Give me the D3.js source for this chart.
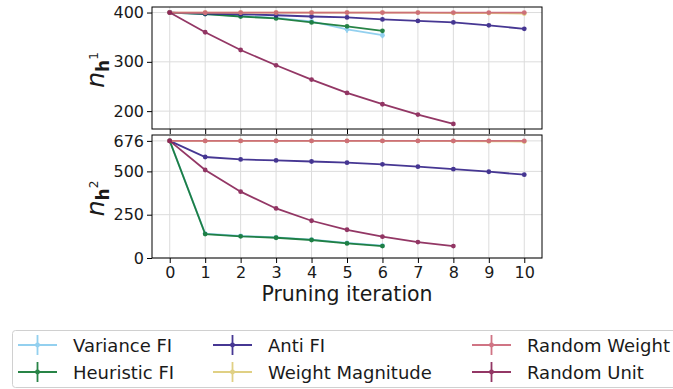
<!DOCTYPE html>
<html>
<head>
<meta charset="utf-8">
<script src="https://cdn.jsdelivr.net/npm/d3@7"></script>
<style>
  body { margin: 0; background: #fff; }
  svg { font-family: 'DejaVu Sans', sans-serif; }
</style>
</head>
<body>
<svg id="chart" width="673" height="389"></svg>
<script>
const iterations = [0, 1, 2, 3, 4, 5, 6, 7, 8, 9, 10];
const methods = ['Variance FI', 'Heuristic FI', 'Anti FI', 'Weight Magnitude', 'Random Weight', 'Random Unit'];
const colors = ['#88CCEE', '#117733', '#332288', '#DDCC77', '#CC6677', '#882255'];

// first hidden layer size per iteration
const varianceH1 = [400, 397, 393, 389, 382, 366, 354];
const heuristicH1 = [400, 397, 392, 388, 380, 372, 363];
const antiH1 = [400, 398, 396.5, 394.5, 392, 390, 386, 383, 380, 374, 367];
const magnitudeH1 = [400, 400, 400, 400, 400, 400, 400, 400, 399, 399, 398];
const randWeightH1 = [400, 400, 400, 400, 400, 400, 400, 400, 400, 400, 400];
const randUnitH1 = [400, 360, 324, 293, 264, 237, 214, 193, 174];
const varianceErrH1 = [0, 0, 0, 1, 2, 7, 6];

// second hidden layer size per iteration
const varianceH2 = [676, 141, 127, 119, 106, 87, 71];
const heuristicH2 = [676, 138, 125, 117, 104, 84, 69];
const antiH2 = [676, 583, 569, 563, 557, 550, 541, 527, 513, 498, 481];
const magnitudeH2 = [676, 676, 676, 676, 676, 676, 676, 676, 675, 674, 672];
const randWeightH2 = [676, 676, 676, 676, 676, 676, 676, 676, 676, 676, 676];
const randUnitH2 = [676, 508, 383, 286, 215, 163, 123, 92, 69];

const ticksH1 = [200, 300, 400];
const ticksH2 = [0, 250, 500, 676];

const svg = d3.select('#chart');
const left = 152, right = 542;
const ink = '#1a1a1a';

const x = d3.scaleLinear().domain([-0.5, 10.5]).range([left, right]);

const panels = [
  { top: 7, bottom: 129, domain: [163.75, 411.25], ticks: ticksH1, sup: '1',
    series: [varianceH1, heuristicH1, antiH1, magnitudeH1, randWeightH1, randUnitH1],
    errors: [varianceErrH1, null, null, null, null, null], xLabels: false },
  { top: 135, bottom: 258, domain: [0, 710], ticks: ticksH2, sup: '2',
    series: [varianceH2, heuristicH2, antiH2, magnitudeH2, randWeightH2, randUnitH2],
    errors: [null, null, null, null, null, null], xLabels: true },
];

for (const p of panels) {
  const y = d3.scaleLinear().domain(p.domain).range([p.bottom, p.top]);
  const g = svg.append('g');

  // grid
  g.append('g').selectAll('line').data(iterations).join('line')
    .attr('x1', d => x(d)).attr('x2', d => x(d))
    .attr('y1', p.top).attr('y2', p.bottom)
    .attr('stroke', '#dcdcdc').attr('stroke-width', 1);
  g.append('g').selectAll('line').data(p.ticks).join('line')
    .attr('x1', left).attr('x2', right)
    .attr('y1', d => y(d)).attr('y2', d => y(d))
    .attr('stroke', '#dcdcdc').attr('stroke-width', 1);

  // series
  const line = d3.line().x((d, i) => x(iterations[i])).y(d => y(d));
  p.series.forEach((vals, k) => {
    const s = g.append('g').attr('opacity', 0.9);
    const err = p.errors[k];
    if (err) {
      s.selectAll('line.err').data(vals).join('line')
        .attr('class', 'err')
        .attr('x1', (d, i) => x(iterations[i])).attr('x2', (d, i) => x(iterations[i]))
        .attr('y1', (d, i) => y(d - err[i])).attr('y2', (d, i) => y(d + err[i]))
        .attr('stroke', colors[k]).attr('stroke-width', 1.8);
    }
    s.append('path').datum(vals)
      .attr('d', line).attr('fill', 'none')
      .attr('stroke', colors[k]).attr('stroke-width', 1.8);
    s.selectAll('circle').data(vals).join('circle')
      .attr('cx', (d, i) => x(iterations[i])).attr('cy', d => y(d))
      .attr('r', 2.4).attr('fill', colors[k]);
  });

  // frame
  g.append('rect')
    .attr('x', left).attr('y', p.top)
    .attr('width', right - left).attr('height', p.bottom - p.top)
    .attr('fill', 'none').attr('stroke', '#000').attr('stroke-width', 1);

  // axes
  const yAxis = d3.axisLeft(y).tickValues(p.ticks).tickSize(5).tickPadding(3).tickFormat(d3.format('d'));
  const ya = g.append('g').attr('transform', `translate(${left},0)`).call(yAxis);
  ya.select('.domain').remove();
  ya.selectAll('text').style('font-size', '16px').attr('fill', ink)
    .style('font-family', "'DejaVu Sans', sans-serif");

  const xAxis = d3.axisBottom(x).tickValues(iterations).tickSize(5).tickPadding(4)
    .tickFormat(p.xLabels ? d3.format('d') : () => '');
  const xa = g.append('g').attr('transform', `translate(0,${p.bottom})`).call(xAxis);
  xa.select('.domain').remove();
  xa.selectAll('text').style('font-size', '16px').attr('fill', ink)
    .style('font-family', "'DejaVu Sans', sans-serif");

  // y label n_{h^k}
  const cy = (p.top + p.bottom) / 2;
  const lab = g.append('text')
    .attr('transform', `translate(104,${cy + 2}) rotate(-90)`)
    .attr('text-anchor', 'middle').attr('fill', ink);
  lab.append('tspan').text('n').style('font-style', 'italic').style('font-size', '25px');
  lab.append('tspan').text('h').style('font-weight', 'bold').style('font-size', '17px').attr('dy', 5);
  lab.append('tspan').text(p.sup).style('font-size', '12px').attr('dy', -11);
}

svg.append('text').attr('x', (left + right) / 2).attr('y', 301)
  .attr('text-anchor', 'middle').style('font-size', '20.5px').attr('fill', ink)
  .text('Pruning iteration');

// legend
const leg = svg.append('g');
leg.append('rect').attr('x', 12.5).attr('y', 330.5).attr('width', 700).attr('height', 57)
  .attr('rx', 3).attr('fill', '#fff').attr('stroke', '#d0d0d0');
const colX = [18, 213, 472];
const rowY = [345, 372];
methods.forEach((m, k) => {
  const cx = colX[Math.floor(k / 2)], ry = rowY[k % 2];
  const e = leg.append('g').attr('opacity', 0.9);
  e.append('line').attr('x1', cx).attr('x2', cx + 39).attr('y1', ry).attr('y2', ry)
    .attr('stroke', colors[k]).attr('stroke-width', 1.8);
  e.append('line').attr('x1', cx + 19.5).attr('x2', cx + 19.5).attr('y1', ry - 10).attr('y2', ry + 10)
    .attr('stroke', colors[k]).attr('stroke-width', 1.8);
  e.append('circle').attr('cx', cx + 19.5).attr('cy', ry).attr('r', 2.4).attr('fill', colors[k]);
  leg.append('text').attr('x', cx + 55).attr('y', ry + 6.5)
    .style('font-size', '18px').attr('fill', ink).text(m);
});
</script>
</body>
</html>
